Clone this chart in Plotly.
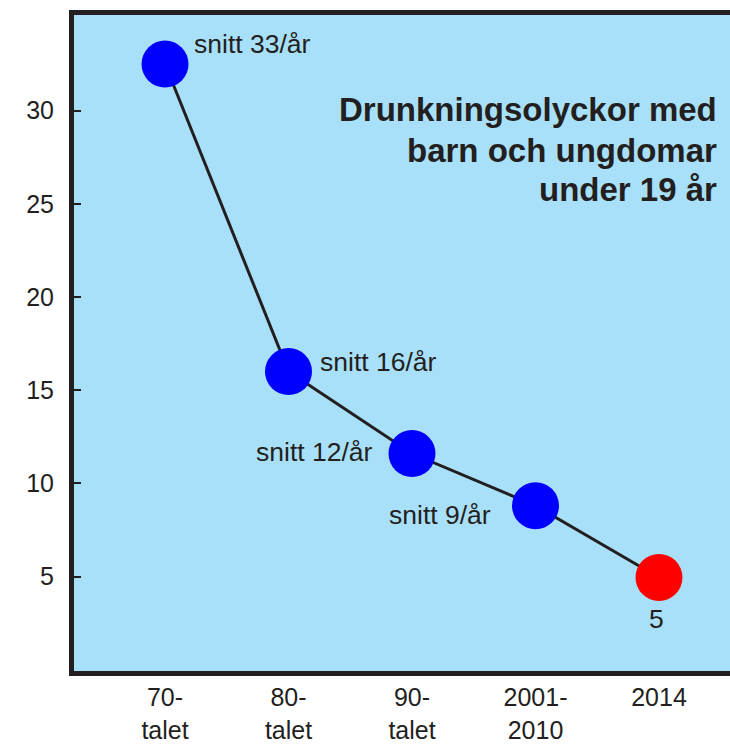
import plotly.graph_objects as go

categories = ["70-<br>talet", "80-<br>talet", "90-<br>talet", "2001-<br>2010", "2014"]
values = [32.5, 16.0, 11.6, 8.8, 4.95]
point_labels = ["snitt 33/år", "snitt 16/år", "snitt 12/år", "snitt 9/år", "5"]
marker_colors = ["#0000FF", "#0000FF", "#0000FF", "#0000FF", "#FF0000"]
title_lines = ["Drunkningsolyckor med", "barn och ungdomar", "under 19 år"]
y_ticks = [5, 10, 15, 20, 25, 30]

TXT = "#231F20"
FONT = "Liberation Sans, Arial, sans-serif"

x_idx = list(range(len(categories)))

fig = go.Figure()
fig.add_trace(go.Scatter(
    x=x_idx, y=values, mode="lines+markers",
    line=dict(color="#231F20", width=3),
    marker=dict(size=47, color=marker_colors, line=dict(width=0)),
    hoverinfo="skip", showlegend=False,
))

# label placement (offsets in px)
offsets = [
    dict(xanchor="left", xshift=27, yshift=20),
    dict(xanchor="left", xshift=29, yshift=10),
    dict(xanchor="right", xshift=-37, yshift=2),
    dict(xanchor="right", xshift=-43, yshift=-9),
    dict(xanchor="center", xshift=-2, yshift=-42),
]
annotations = []
for xi, v, t, o in zip(x_idx, values, point_labels, offsets):
    annotations.append(dict(
        x=xi, y=v, xref="x", yref="y", text=t, showarrow=False,
        yanchor="middle", font=dict(size=26.5, color=TXT, family=FONT), **o))

title_y_px = [110, 151, 190]
for line, ypx in zip(title_lines, title_y_px):
    annotations.append(dict(
        x=(719 - 74) / 656, y=1 - (ypx - 15) / 659, xref="paper", yref="paper",
        text="<b>" + line + "</b>", showarrow=False, xanchor="right", yanchor="middle",
        font=dict(size=33, color=TXT, family=FONT)))

fig.update_layout(
    width=730, height=744,
    margin=dict(l=74, r=0, t=15, b=70),
    paper_bgcolor="white", plot_bgcolor="#A9E0F9",
    annotations=annotations,
    font=dict(family=FONT, color=TXT),
)
fig.update_xaxes(
    range=[-0.737, 4.575], tickvals=x_idx, ticktext=categories,
    showline=True, linewidth=5, linecolor="#231F20", mirror=True,
    showgrid=False, zeroline=False, ticks="",
    tickfont=dict(size=25, color=TXT, family=FONT),
)
fig.update_yaxes(
    range=[-0.07, 35.13], tickvals=y_ticks,
    showline=True, linewidth=5, linecolor="#231F20", mirror=False,
    showgrid=False, zeroline=False,
    ticks="inside", ticklen=7, tickwidth=2, tickcolor="#231F20",
    ticklabelstandoff=10,
    tickfont=dict(size=25, color=TXT, family=FONT),
)
fig.write_html(
    "out.html",
    config={"displayModeBar": False, "staticPlot": True},
    post_script="document.body.style.margin='0';document.body.style.overflow='hidden';"
                "document.documentElement.style.overflow='hidden';",
)
